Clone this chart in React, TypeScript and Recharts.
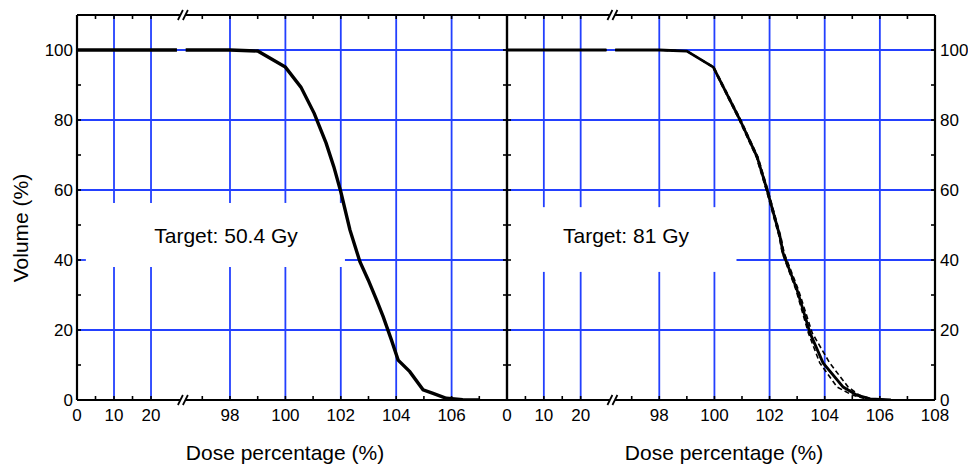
import React from "react";
import { LineChart, Line, XAxis, YAxis, ReferenceLine } from "recharts";

// broken x axis: 0-30 squeezed into the left part, 96-108 drawn at full scale
const U0 = 92.477;
const LOW_SCALE = 0.1336;
const U_MAX = 108;
const Y_MAX = 110;
const BREAK_U = 96.3;
const toU = (d: number) => (d < 50 ? U0 + d * LOW_SCALE : d);

const xMajor = [0, 10, 20, 98, 100, 102, 104, 106, 108];
const xMinor = [5, 15, 97, 99, 101, 103, 105, 107];
const yMajor = [0, 20, 40, 60, 80, 100];
const yMinor = [10, 30, 50, 70, 90];
const xGrid = [10, 20, 98, 100, 102, 104, 106];
const yGrid = [20, 40, 60, 80, 100];

// flat 100% part before the axis break (all curves)
const flatDose = [0, 27.0];
const flatVol = [100, 100];

// Target 50.4 Gy
const dose504 = [96.4, 98.0, 99.0, 100.0, 100.56, 101.04, 101.47, 101.75, 102.0, 102.33, 102.69, 102.99, 103.29, 103.53, 103.83, 104.07, 104.49, 104.97, 105.33, 105.81, 106.4, 107.0];
const vol504 = [100, 100, 99.7, 95.1, 89.4, 81.9, 73.4, 66.6, 59.5, 48.6, 39.5, 34.3, 28.6, 23.8, 17.1, 11.4, 8.1, 2.9, 1.9, 0.5, 0.1, 0];

// Target 81 Gy: mean (solid) and two dashed bounds
const vol81 = [100, 100, 99.7, 95.1, 80, 69.4, 60, 46.6, 42, 31.4, 19.1, 10.6, 3.7, 1.4, 0.3, 0];
const dose81 = [96.4, 98.0, 99.0, 99.96, 100.93, 101.55, 101.91, 102.38, 102.49, 103.0, 103.47, 103.94, 104.67, 105.17, 105.65, 106.4];
const dose81Hi = [96.4, 98.0, 99.0, 99.98, 100.96, 101.58, 101.94, 102.41, 102.53, 103.05, 103.55, 104.18, 104.85, 105.25, 105.7, 106.4];
const dose81Lo = [96.4, 98.0, 99.0, 99.94, 100.9, 101.52, 101.88, 102.35, 102.46, 102.96, 103.41, 103.82, 104.45, 105.0, 105.5, 106.2];

const FONT = '"Liberation Sans", Arial, Helvetica, sans-serif';
const BLUE = "#2340ff";

function buildSeries(dose: number[], vol: number[]) {
  const flat = flatDose.map((d, i) => ({ u: toU(d), v: flatVol[i] as number | null }));
  const high = dose.map((d, i) => ({ u: toU(d), v: vol[i] as number | null }));
  return [...flat, { u: BREAK_U, v: null }, ...high];
}

const xTicks = [...xMajor, ...xMinor].map(toU).concat(BREAK_U).sort((a, b) => a - b);
const yTicks = [...yMajor, ...yMinor].sort((a, b) => a - b);

function BreakMark({ x, y }: { x: number; y: number }) {
  return (
    <g>
      <polygon points={`${x - 5},${y + 5} ${x},${y - 5} ${x + 5},${y - 5} ${x},${y + 5}`} fill="#fff" />
      <line x1={x - 5} y1={y + 5} x2={x} y2={y - 5} stroke="#000" strokeWidth={1.8} />
      <line x1={x} y1={y + 5} x2={x + 5} y2={y - 5} stroke="#000" strokeWidth={1.8} />
    </g>
  );
}

const majorOf = (u: number) => xMajor.find((m) => Math.abs(toU(m) - u) < 1e-6);

const bottomTick = (labels: number[]) => (p: any) => {
  const u = p.payload.value;
  if (Math.abs(u - BREAK_U) < 1e-6) return <BreakMark x={p.x} y={p.y} />;
  const d = majorOf(u);
  const show = d !== undefined && labels.includes(d);
  return (
    <g>
      <line x1={p.x} x2={p.x} y1={p.y} y2={p.y - 4} stroke="#000" strokeWidth={1.6} />
      {show && (
        <text x={p.x} y={p.y + 21} textAnchor="middle" fontSize={17} fontFamily={FONT} fill="#000">
          {d}
        </text>
      )}
    </g>
  );
};

const topTick = (p: any) => {
  if (Math.abs(p.payload.value - BREAK_U) < 1e-6) return <BreakMark x={p.x} y={p.y} />;
  return <line x1={p.x} x2={p.x} y1={p.y} y2={p.y + 4} stroke="#000" strokeWidth={1.6} />;
};

const leftTick = (labels: boolean) => (p: any) => {
  const v = p.payload.value;
  return (
    <g>
      <line x1={p.x} x2={p.x + 4} y1={p.y} y2={p.y} stroke="#000" strokeWidth={1.6} />
      {labels && yMajor.includes(v) && (
        <text x={p.x - 4} y={p.y + 6} textAnchor="end" fontSize={17} fontFamily={FONT} fill="#000">
          {v}
        </text>
      )}
    </g>
  );
};

const rightTick = (labels: boolean) => (p: any) => {
  const v = p.payload.value;
  return (
    <g>
      <line x1={p.x} x2={p.x - 4} y1={p.y} y2={p.y} stroke="#000" strokeWidth={1.6} />
      {labels && yMajor.includes(v) && (
        <text x={p.x + 5} y={p.y + 6} textAnchor="start" fontSize={17} fontFamily={FONT} fill="#000">
          {v}
        </text>
      )}
    </g>
  );
};

type Box = { x1: number; x2: number; y1: number; y2: number };

// grid lines leave a gap where the "Target" text sits
function gridSegments(box: Box) {
  const segs: { x1: number; y1: number; x2: number; y2: number }[] = [];
  xGrid.forEach((d) => {
    const u = toU(d);
    if (u >= box.x1 && u <= box.x2) {
      segs.push({ x1: u, y1: 0, x2: u, y2: box.y1 }, { x1: u, y1: box.y2, x2: u, y2: Y_MAX });
    } else {
      segs.push({ x1: u, y1: 0, x2: u, y2: Y_MAX });
    }
  });
  yGrid.forEach((v) => {
    if (v >= box.y1 && v <= box.y2) {
      if (box.x1 > U0) segs.push({ x1: U0, y1: v, x2: box.x1, y2: v });
      segs.push({ x1: box.x2, y1: v, x2: U_MAX, y2: v });
    } else {
      segs.push({ x1: U0, y1: v, x2: U_MAX, y2: v });
    }
  });
  return segs;
}

const axisLine = { stroke: "#000", strokeWidth: 2.2 };

function Panel(props: {
  left: number;
  width: number;
  margin: { top: number; right: number; bottom: number; left: number };
  leftAxisWidth: number;
  rightAxisWidth: number;
  leftLabels: boolean;
  rightLabels: boolean;
  xLabels: number[];
  box: Box;
  children: React.ReactNode;
}) {
  return (
    <div style={{ position: "absolute", left: props.left, top: 0 }}>
      <LineChart width={props.width} height={464} margin={props.margin}>
        <XAxis
          xAxisId="b"
          type="number"
          dataKey="u"
          domain={[U0, U_MAX]}
          ticks={xTicks}
          interval={0}
          allowDataOverflow
          height={30}
          tickSize={0}
          tickMargin={0}
          tickLine={false}
          axisLine={axisLine}
          tick={bottomTick(props.xLabels)}
        />
        <XAxis
          xAxisId="t"
          orientation="top"
          type="number"
          dataKey="u"
          domain={[U0, U_MAX]}
          ticks={xTicks}
          interval={0}
          allowDataOverflow
          height={1}
          tickSize={0}
          tickMargin={0}
          tickLine={false}
          axisLine={axisLine}
          tick={topTick}
        />
        <YAxis
          yAxisId="l"
          type="number"
          domain={[0, Y_MAX]}
          ticks={yTicks}
          interval={0}
          allowDataOverflow
          width={props.leftAxisWidth}
          tickSize={0}
          tickMargin={0}
          tickLine={false}
          axisLine={axisLine}
          tick={leftTick(props.leftLabels)}
        />
        <YAxis
          yAxisId="r"
          orientation="right"
          type="number"
          domain={[0, Y_MAX]}
          ticks={yTicks}
          interval={0}
          allowDataOverflow
          width={props.rightAxisWidth}
          tickSize={0}
          tickMargin={0}
          tickLine={false}
          axisLine={axisLine}
          tick={rightTick(props.rightLabels)}
        />
        {gridSegments(props.box).map((s, i) => (
          <ReferenceLine
            key={`g${i}`}
            xAxisId="b"
            yAxisId="l"
            segment={[
              { x: s.x1, y: s.y1 },
              { x: s.x2, y: s.y2 },
            ]}
            stroke={BLUE}
            strokeWidth={1.8}
            zIndex={-100}
          />
        ))}
        {props.children}
      </LineChart>
    </div>
  );
}

export default function App() {
  return (
    <div style={{ position: "absolute", left: 0, top: 0, width: 968, height: 464, background: "#fff", overflow: "hidden" }}>
      <Panel
        left={0}
        width={520}
        margin={{ top: 14, right: 12, bottom: 34, left: 17 }}
        leftAxisWidth={60}
        rightAxisWidth={1}
        leftLabels
        rightLabels={false}
        xLabels={xMajor.filter((d) => d !== 108)}
        box={{ x1: toU(2.4), x2: 102.15, y1: 38, y2: 56.3 }}
      >
        <Line
          xAxisId="b"
          yAxisId="l"
          data={buildSeries(dose504, vol504)}
          dataKey="v"
          type="linear"
          stroke="#000"
          strokeWidth={3.4}
          dot={false}
          activeDot={false}
          isAnimationActive={false}
        />
      </Panel>
      <Panel
        left={480}
        width={488}
        margin={{ top: 14, right: 3, bottom: 34, left: 26 }}
        leftAxisWidth={1}
        rightAxisWidth={30}
        leftLabels={false}
        rightLabels
        xLabels={xMajor}
        box={{ x1: U0, x2: 100.8, y1: 36.6, y2: 55.1 }}
      >
        <Line
          xAxisId="b"
          yAxisId="l"
          data={buildSeries(dose81Hi, vol81)}
          dataKey="v"
          type="linear"
          stroke="#000"
          strokeWidth={1.6}
          strokeDasharray="5 3"
          dot={false}
          activeDot={false}
          isAnimationActive={false}
        />
        <Line
          xAxisId="b"
          yAxisId="l"
          data={buildSeries(dose81Lo, vol81)}
          dataKey="v"
          type="linear"
          stroke="#000"
          strokeWidth={1.6}
          strokeDasharray="5 3"
          dot={false}
          activeDot={false}
          isAnimationActive={false}
        />
        <Line
          xAxisId="b"
          yAxisId="l"
          data={buildSeries(dose81, vol81)}
          dataKey="v"
          type="linear"
          stroke="#000"
          strokeWidth={2.8}
          dot={false}
          activeDot={false}
          isAnimationActive={false}
        />
      </Panel>
      <svg width={968} height={464} style={{ position: "absolute", left: 0, top: 0, pointerEvents: "none" }}>
        <g fontFamily={FONT} fill="#000">
          <text x={226} y={243} fontSize={21} textAnchor="middle">
            Target: 50.4 Gy
          </text>
          <text x={626} y={243} fontSize={21} textAnchor="middle">
            Target: 81 Gy
          </text>
          <text x={285} y={460} fontSize={21} textAnchor="middle">
            Dose percentage (%)
          </text>
          <text x={724} y={460} fontSize={21} textAnchor="middle">
            Dose percentage (%)
          </text>
          <text x={28} y={228} fontSize={21} textAnchor="middle" transform="rotate(-90 28 228)">
            Volume (%)
          </text>
        </g>
      </svg>
    </div>
  );
}
